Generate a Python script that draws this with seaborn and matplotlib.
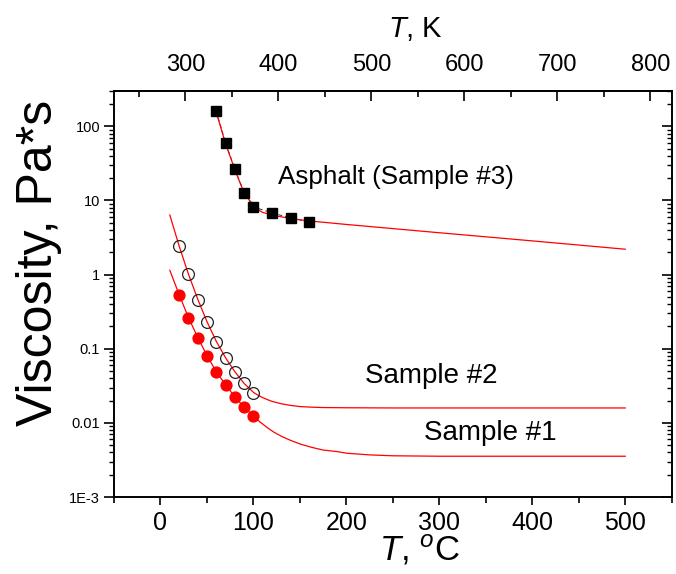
import numpy as np
import pandas as pd
import matplotlib
matplotlib.use("Agg")
import matplotlib.pyplot as plt
import matplotlib.ticker as mticker
import seaborn as sns

# ---- data ----
asph_T = [60, 70, 80, 90, 100, 120, 140, 160]
asph_eta = [160, 60, 26.5, 12.7, 8.2, 6.8, 5.8, 5.15]

s2_T = [20, 30, 40, 50, 60, 70, 80, 90, 100]
s2_eta = [2.44, 1.01, 0.46, 0.23, 0.125, 0.0755, 0.049, 0.034, 0.0252]

s1_T = [20, 30, 40, 50, 60, 70, 80, 90, 100]
s1_eta = [0.53, 0.262, 0.14, 0.080, 0.049, 0.0324, 0.0225, 0.0163, 0.0124]

# fitted curves
fit3_T = [60, 65, 70, 75, 80, 85, 90, 95, 100, 105, 110, 120, 140, 160, 200, 300, 400, 500]
fit3_eta = [155, 95, 58, 39, 26, 18, 12.8, 10.3, 8.7, 7.5, 6.9, 6.35, 5.7, 5.3, 4.75, 3.67, 2.85, 2.2]

fit2_T = [10, 20, 30, 40, 50, 60, 70, 80, 90, 100, 105, 110, 115, 120, 130, 140, 150, 162, 175,
          200, 250, 500]
fit2_eta = [6.4, 2.45, 1.02, 0.47, 0.232, 0.126, 0.0755, 0.049, 0.034, 0.0258, 0.0236, 0.0219,
            0.0206, 0.0195, 0.0181, 0.0172, 0.0166, 0.0163, 0.0161, 0.016, 0.0159, 0.0159]

fit1_T = [10, 20, 30, 40, 50, 60, 70, 80, 90, 100, 107, 115, 122, 130, 140, 150, 162, 175, 190,
          200, 225, 250, 300, 500]
fit1_eta = [1.15, 0.54, 0.265, 0.143, 0.081, 0.049, 0.0326, 0.0225, 0.0163, 0.0124, 0.0103,
            0.0086, 0.0075, 0.0066, 0.0058, 0.0052, 0.0047, 0.0043, 0.0041, 0.0039, 0.0037,
            0.0036, 0.00355, 0.00355]

ytick_vals = [1e-3, 1e-2, 1e-1, 1, 10, 100]
ytick_labels = ["1E-3", "0.01", "0.1", "1", "10", "100"]
xtick_vals = [0, 100, 200, 300, 400, 500]
ktick_vals = [300, 400, 500, 600, 700, 800]

labels = {"asph": "Asphalt (Sample #3)", "s2": "Sample #2", "s1": "Sample #1"}

# ---- style ----
sns.set_theme(style="ticks")
plt.rcParams['font.family'] = ['Liberation Sans', 'DejaVu Sans']
plt.rcParams['mathtext.fontset'] = 'custom'
plt.rcParams['mathtext.rm'] = 'Liberation Sans'
plt.rcParams['mathtext.it'] = 'Liberation Sans:italic'
plt.rcParams['axes.linewidth'] = 1.2
for k in ('text.color', 'axes.labelcolor', 'xtick.color', 'ytick.color', 'axes.edgecolor'):
    plt.rcParams[k] = 'black'

fig = plt.figure(figsize=(6.76, 5.74), dpi=100)
ax = fig.add_axes([0.1686, 0.1341, 0.8254, 0.7074])

df3f = pd.DataFrame({"T": fit3_T, "eta": fit3_eta})
df2f = pd.DataFrame({"T": fit2_T, "eta": fit2_eta})
df1f = pd.DataFrame({"T": fit1_T, "eta": fit1_eta})
df3 = pd.DataFrame({"T": asph_T, "eta": asph_eta})
df2 = pd.DataFrame({"T": s2_T, "eta": s2_eta})
df1 = pd.DataFrame({"T": s1_T, "eta": s1_eta})

# faint dashed connector of asphalt points
ax.plot(df3["T"], df3["eta"], color="#333333", lw=0.7, ls=(0, (4, 3)), zorder=1)

for d in (df3f, df2f, df1f):
    sns.lineplot(data=d, x="T", y="eta", ax=ax, color="red", lw=0.9, sort=False,
                 estimator=None, zorder=2)

ax.plot(df3["T"], df3["eta"], ls="none", marker="s", ms=7.2, color="black", zorder=3)
ax.plot(df2["T"], df2["eta"], ls="none", marker="o", ms=8.5, mfc="none", mec="#222222",
        mew=0.9, zorder=3)
ax.plot(df1["T"], df1["eta"], ls="none", marker="o", ms=7.8, mfc="red", mec="red", zorder=3)

ax.set_yscale("log")
ax.set_xlim(-50, 550)
ax.set_ylim(1e-3, 300)

ax.set_yticks(ytick_vals)
ax.set_yticklabels(ytick_labels)
ax.yaxis.set_minor_locator(mticker.LogLocator(base=10, subs=np.arange(2, 10), numticks=20))
ax.yaxis.set_minor_formatter(mticker.NullFormatter())
ax.set_xticks(xtick_vals)
ax.xaxis.set_minor_locator(mticker.MultipleLocator(50))

ax.tick_params(axis="x", which="major", direction="out", length=6, width=1.2,
               labelsize=18, pad=4, top=False, colors="black")
ax.tick_params(axis="x", which="minor", direction="out", length=4, width=1.2, top=False)
ax.tick_params(axis="y", which="major", direction="out", length=7, width=1.2,
               labelsize=10.5, pad=3, right=False, colors="black")
ax.tick_params(axis="y", which="minor", direction="out", length=3.5, width=1.0, right=False)

# right side inward ticks via twin axis
axr = ax.twinx()
axr.set_yscale("log")
axr.set_ylim(ax.get_ylim())
axr.set_yticks(ytick_vals)
axr.yaxis.set_minor_locator(mticker.LogLocator(base=10, subs=np.arange(2, 10), numticks=20))
axr.tick_params(axis="y", which="major", direction="in", length=7, width=1.2, labelright=False)
axr.tick_params(axis="y", which="minor", direction="in", length=3.5, width=1.0, labelright=False)

# top Kelvin axis
sec = ax.secondary_xaxis("top", functions=(lambda c: c + 273.15, lambda k: k - 273.15))
sec.set_xticks(ktick_vals)
sec.xaxis.set_minor_locator(mticker.MultipleLocator(50))
sec.tick_params(axis="x", which="major", direction="in", length=7, width=1.2, labelsize=17,
                pad=11, colors="black")
sec.tick_params(axis="x", which="minor", direction="in", length=4, width=1.2)
sec.spines["top"].set_linewidth(1.2)
fig.text(0.615, 0.949, r"$\it{T}$, K", fontsize=21, ha="center", va="center", color="black")

ax.set_xlabel(r"$\it{T}$, $^{o}$C", fontsize=25, labelpad=2, color="black")
ax.xaxis.set_label_coords(0.548, -0.089)
ax.set_ylabel("Viscosity, Pa*s", fontsize=36, labelpad=4, color="black")
ax.yaxis.set_label_coords(-0.093, 0.576)

for sp in ax.spines.values():
    sp.set_visible(True)
    sp.set_linewidth(1.2)
    sp.set_color("black")

ax.text(126, 21, labels["asph"], fontsize=18.7, va="center", ha="left", color="black")
ax.text(220, 0.043, labels["s2"], fontsize=20, va="center", ha="left", color="black")
ax.text(283, 0.0073, labels["s1"], fontsize=20, va="center", ha="left", color="black")

fig.savefig("out.png", dpi=100)
